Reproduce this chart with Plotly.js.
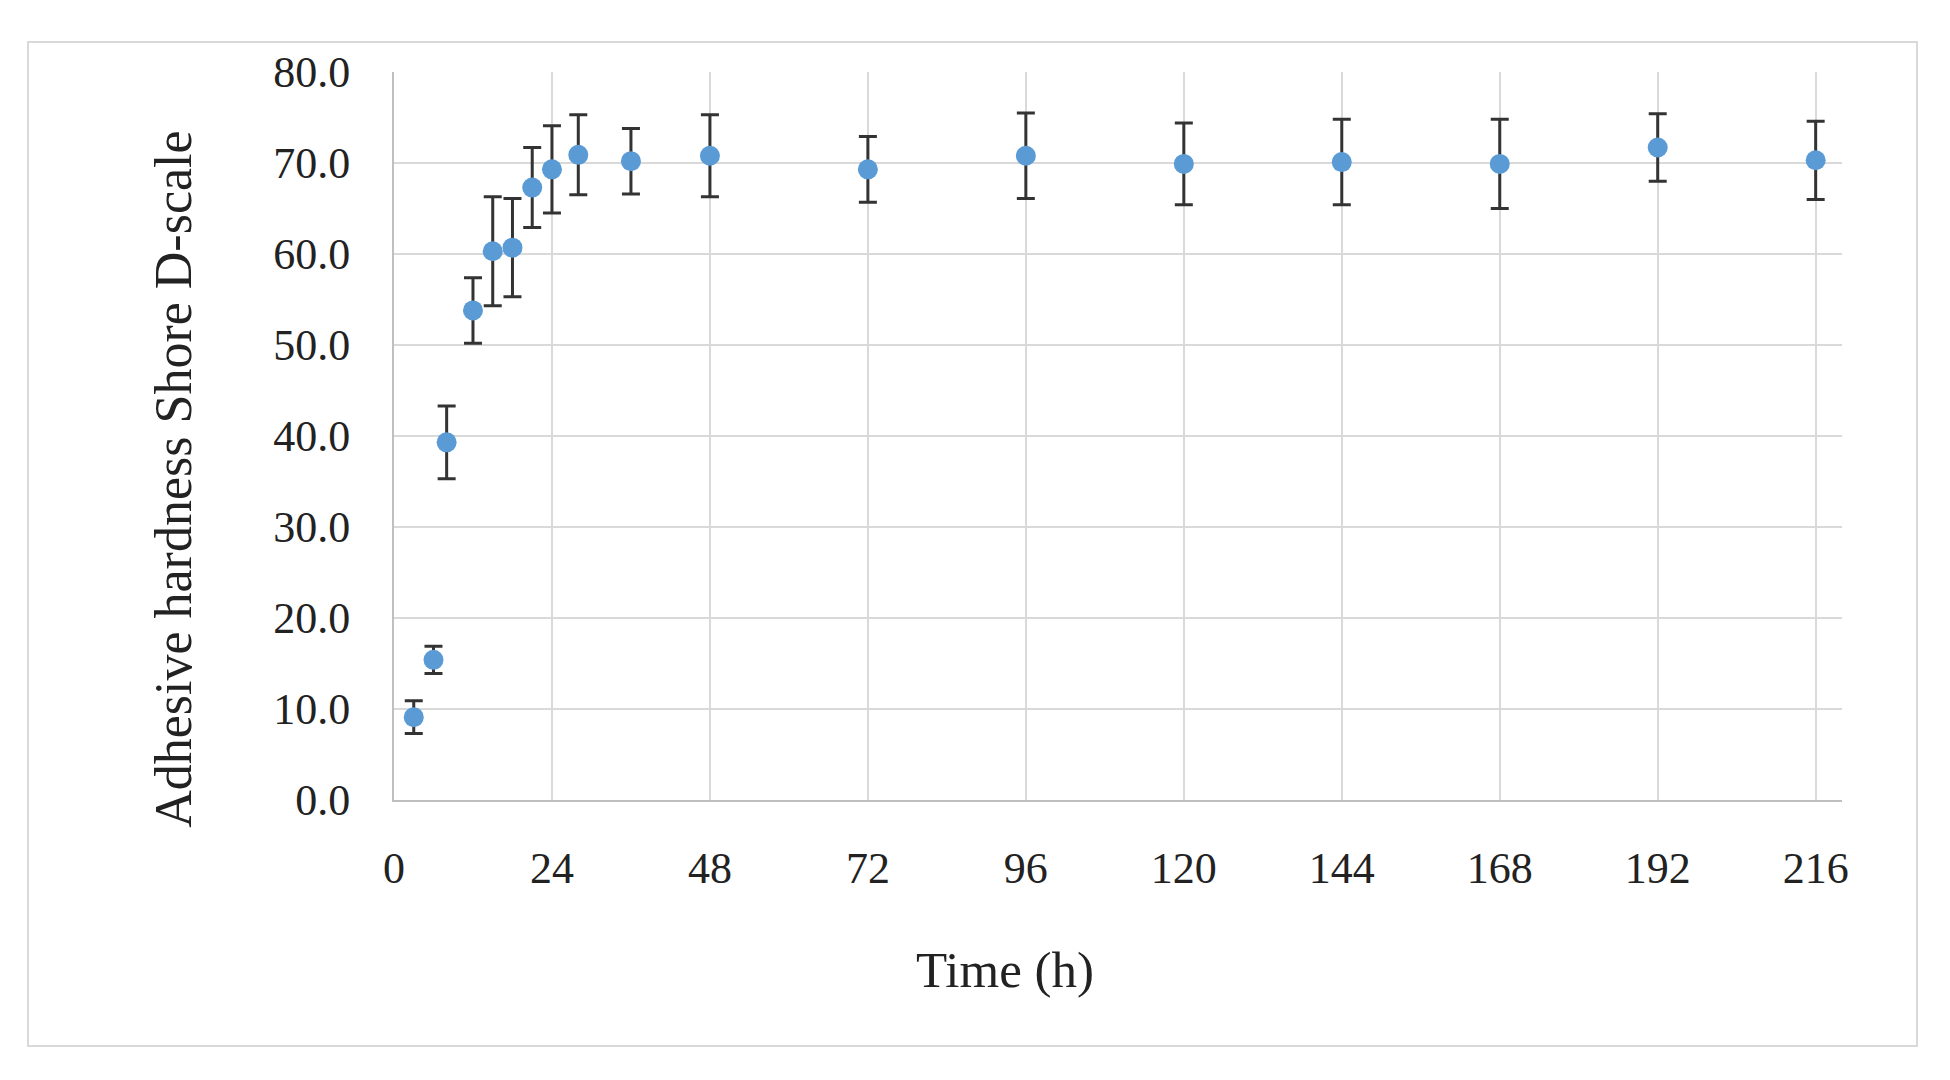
<!DOCTYPE html>
<html>
<head>
<meta charset="utf-8">
<script src="https://cdn.plot.ly/plotly-3.0.1.min.js"></script>
<style>
  html, body { margin: 0; padding: 0; background: #fff; }
  #wrap { position: relative; width: 1950px; height: 1080px; }
  #frame { position: absolute; left: 27px; top: 41px; width: 1887px; height: 1002px;
           border: 2px solid #d9d9d9; pointer-events: none; }
  #chart { position: absolute; left: 0; top: 0; width: 1950px; height: 1080px; }
</style>
</head>
<body>
<div id="wrap">
  <div id="chart"></div>
  <div id="frame"></div>
</div>
<script>
// curing time (h) vs Shore D hardness, mean and standard deviation
var timeH    = [3, 6, 8, 12, 15, 18, 21, 24, 28, 36, 48, 72, 96, 120, 144, 168, 192, 216];
var hardness = [9.1, 15.4, 39.3, 53.8, 60.3, 60.7, 67.3, 69.3, 70.9, 70.2, 70.8, 69.3, 70.8, 69.9, 70.1, 69.9, 71.7, 70.3];
var stdDev   = [1.8, 1.5, 4.0, 3.6, 6.0, 5.4, 4.4, 4.8, 4.4, 3.6, 4.5, 3.6, 4.7, 4.5, 4.7, 4.9, 3.7, 4.3];

var xTitle = "Time (h)";
var yTitle = "Adhesive hardness Shore D-scale";

var FONT = "'Liberation Serif', 'DejaVu Serif', serif";
var GRID = "#d9d9d9";
var INK = "#222";

var trace = {
  x: timeH, y: hardness, type: "scatter", mode: "markers",
  marker: { color: "#5b9bd5", size: 20 },
  error_y: { type: "data", array: stdDev, visible: true, color: "#333", thickness: 3, width: 9 },
  hoverinfo: "x+y"
};

// Excel places the axis titles off-centre, so they are drawn as annotations
var layout = {
  width: 1950, height: 1080,
  margin: { l: 394, r: 108, t: 72, b: 280 },
  paper_bgcolor: "#fff", plot_bgcolor: "#fff",
  showlegend: false,
  font: { family: FONT, color: INK, size: 44 },
  xaxis: {
    range: [0, 220], tick0: 0, dtick: 24,
    showgrid: true, gridcolor: GRID, gridwidth: 2,
    zeroline: false, showline: true, linecolor: "#bfbfbf", linewidth: 2,
    ticks: "", ticklabelstandoff: 28,
    tickfont: { family: FONT, size: 44, color: INK }
  },
  yaxis: {
    range: [0, 80], dtick: 10, tickformat: ".1f",
    showgrid: true, gridcolor: GRID, gridwidth: 2,
    zeroline: false, showline: true, linecolor: "#bfbfbf", linewidth: 2,
    ticks: "", ticklabelstandoff: 33,
    tickfont: { family: FONT, size: 44, color: INK }
  },
  annotations: [
    { text: xTitle, xref: "paper", yref: "paper", x: 0.422, y: -0.2335,
      xanchor: "center", yanchor: "middle", showarrow: false,
      font: { family: FONT, size: 51, color: INK } },
    { text: yTitle, xref: "paper", yref: "paper", x: -0.152, y: 0.441,
      xanchor: "center", yanchor: "middle", showarrow: false, textangle: -90,
      font: { family: FONT, size: 52, color: INK } }
  ]
};

Plotly.newPlot("chart", [trace], layout, { displayModeBar: false, staticPlot: true });
</script>
</body>
</html>
